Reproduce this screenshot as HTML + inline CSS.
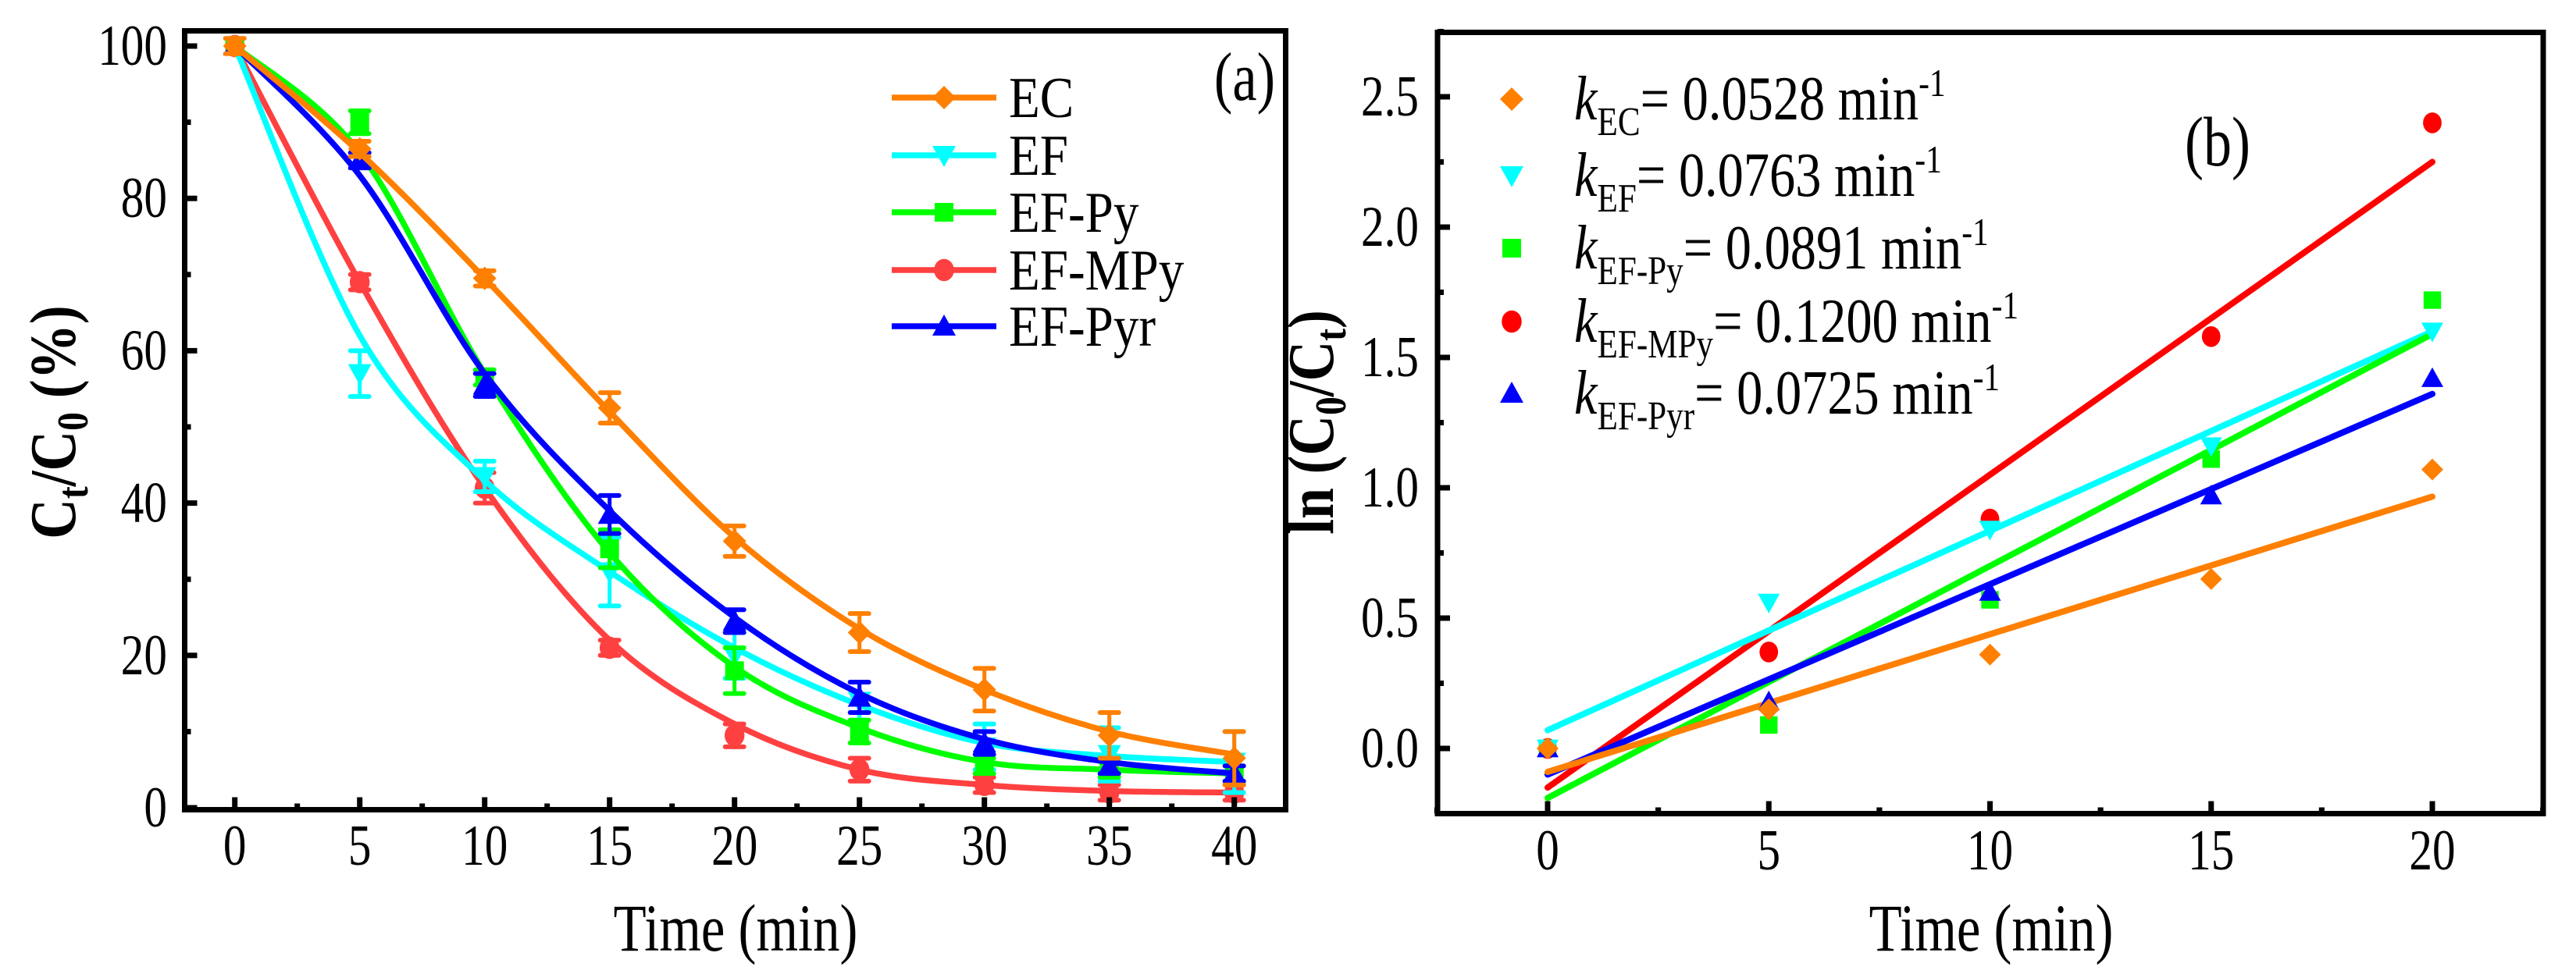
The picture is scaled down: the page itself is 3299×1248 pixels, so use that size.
<!DOCTYPE html>
<html><head><meta charset="utf-8"><style>
body{margin:0;background:#fff}
svg{display:block;font-family:"Liberation Serif",serif}
</style></head><body>
<svg id="fig" width="3299" height="1248" viewBox="0 0 3299 1248"></svg>
<script>
// ---- Panel (a) data ----
const timesA = [0,5,10,15,20,25,30,35,40];
const seriesNames = ["EC","EF","EF-Py","EF-MPy","EF-Pyr"];
const ecVals = [100,86.5,69.5,52.5,35,23,15.5,9.5,6.5];
const ecErr = [1,1,1,2,2,2.5,2.8,3,3.5];
const ecFit = [100,86,69.5,52,35.5,23.5,15.5,10,7];
const efVals = [100,57,43.5,31,20,14,8,7,6];
const efErr = [0,3,2,4.5,3,2.5,3,3.5,4];
const efFit = [100,62,43,31,21,13.5,8.5,6.8,6];
const pyVals = [100,90,56.5,34,18,10,5.5,5,4.5];
const pyErr = [0,1.5,1,2.5,3,1.5,1,1,1];
const pyFit = [100,86,57,33.5,18.5,10.5,6,5,4.5];
const mpyVals = [100,69,42,21,9.5,5,3,2,2];
const mpyErr = [0,1,2,1,1.5,1.5,1,1,1];
const mpyFit = [100,69,42,22,11,5,3,2.2,2];
const pyrVals = [100,85,55.5,38.5,24.5,14.5,8.5,5.5,4.5];
const pyrErr = [0,1,1.5,2.5,1.5,2,1.5,1,1];
const pyrFit = [100,83,57,39,25,15,9,6,4.5];
const yTicksA = [0,20,40,60,80,100];
const xTicksA = [0,5,10,15,20,25,30,35,40];
// ---- Panel (b) data ----
const timesB = [0,5,10,15,20];
const ecLn = [0,0.15,0.36,0.65,1.07];
const efLn = [0,0.56,0.84,1.16,1.60];
const pyLn = [0,0.09,0.57,1.11,1.72];
const mpyLn = [0,0.37,0.88,1.58,2.40];
const pyrLn = [0,0.18,0.60,0.97,1.42];
const intercepts = [-0.09,0.07,-0.19,-0.15,-0.10];
const slopes = [0.0528,0.0765,0.089,0.12,0.073];
const kLabels = ["0.0528","0.0763","0.0891","0.1200","0.0725"];
const kSubs = ["EC","EF","EF-Py","EF-MPy","EF-Pyr"];
const yTicksB = [0.0,0.5,1.0,1.5,2.0,2.5];
const xTicksB = [0,5,10,15,20];

const NS="http://www.w3.org/2000/svg";
const svg=document.getElementById('fig');
function mk(tag,attrs,parent){const e=document.createElementNS(NS,tag);for(const k in attrs)e.setAttribute(k,attrs[k]);(parent||svg).appendChild(e);return e;}
function txt(x,y,size,anchor,sx,parent){
  return mk('text',{transform:`translate(${x},${y}) scale(${sx},1)`,x:0,y:0,'font-size':size,'text-anchor':anchor},parent);
}

const colA=["#FF7F00","#00FFFF","#00FF00","#FF4040","#0000FF"];
const colB=["#FF7F00","#00FFFF","#00FF00","#FF0000","#0000FF"];
const shapes=["diamond","down","square","circle","up"];

function marker(shape,cx,cy,s,color,g){
  let e;
  if(shape==="diamond") e=mk('polygon',{points:`${cx},${cy-s} ${cx+s},${cy} ${cx},${cy+s} ${cx-s},${cy}`,fill:color},g);
  else if(shape==="down") e=mk('polygon',{points:`${cx-s},${cy-s*0.8} ${cx+s},${cy-s*0.8} ${cx},${cy+s}`,fill:color},g);
  else if(shape==="up") e=mk('polygon',{points:`${cx-s},${cy+s*0.8} ${cx+s},${cy+s*0.8} ${cx},${cy-s}`,fill:color},g);
  else if(shape==="square") e=mk('rect',{x:cx-s*0.8,y:cy-s*0.8,width:s*1.6,height:s*1.6,fill:color},g);
  else e=mk('ellipse',{cx:cx,cy:cy,rx:s*0.85,ry:s*0.95,fill:color},g);
  return e;
}
function spline(pts){
  let d=`M${pts[0][0]},${pts[0][1]}`;
  for(let i=0;i<pts.length-1;i++){
    const p0=pts[Math.max(0,i-1)],p1=pts[i],p2=pts[i+1],p3=pts[Math.min(pts.length-1,i+2)];
    const c1=[p1[0]+(p2[0]-p0[0])/6,p1[1]+(p2[1]-p0[1])/6];
    const c2=[p2[0]-(p3[0]-p1[0])/6,p2[1]-(p3[1]-p1[1])/6];
    d+=` C${c1[0]},${c1[1]} ${c2[0]},${c2[1]} ${p2[0]},${p2[1]}`;
  }
  return d;
}

// ===== Panel A =====
const A={x0:236.5,x1:1646.5,y0:39.5,y1:1037.5};
const xA=v=>300.7+v*32.0;
const yA=v=>1035-v*9.76;
const gA=mk('g',{});


const valsA=[ecVals,efVals,pyVals,mpyVals,pyrVals];
const errsA=[ecErr,efErr,pyErr,mpyErr,pyrErr];
const fitsA=[ecFit,efFit,pyFit,mpyFit,pyrFit];
const drawOrderA=[3,1,2,4,0];
drawOrderA.forEach(si=>{
  const g=mk('g',{},gA);
  
  
  const pts=timesA.map((t,i)=>[xA(t),yA(fitsA[si][i])]);
  const p=mk('path',{d:spline(pts),fill:'none',stroke:colA[si],'stroke-width':7.5,'stroke-linecap':'round'},g);
  
  
  timesA.forEach((t,i)=>{
    const cx=xA(t),v=valsA[si][i],e=errsA[si][i];
    if(e>0){
      mk('line',{x1:cx,x2:cx,y1:yA(v-e),y2:yA(v+e),stroke:colA[si],'stroke-width':5},g);
      mk('line',{x1:cx-12,x2:cx+12,y1:yA(v+e),y2:yA(v+e),stroke:colA[si],'stroke-width':6,'stroke-linecap':'round'},g);
      mk('line',{x1:cx-12,x2:cx+12,y1:yA(v-e),y2:yA(v-e),stroke:colA[si],'stroke-width':6,'stroke-linecap':'round'},g);
    }
    const m=marker(shapes[si],cx,yA(v),15,colA[si],g);
    
    
  });
});
const frA=mk('rect',{x:A.x0,y:A.y0,width:A.x1-A.x0,height:A.y1-A.y0,fill:'none',stroke:'#000','stroke-width':7},gA);


yTicksA.forEach(v=>{
  mk('line',{x1:A.x0,x2:A.x0+16,y1:yA(v),y2:yA(v),stroke:'#000','stroke-width':7},gA);
  const t=txt(214,yA(v)+24,74,'end',0.8,gA);t.textContent=v;
  
  
  if(v<100) mk('line',{x1:A.x0,x2:A.x0+8,y1:yA(v+10),y2:yA(v+10),stroke:'#000','stroke-width':7},gA);
});
xTicksA.forEach(v=>{
  mk('line',{x1:xA(v),x2:xA(v),y1:A.y1,y2:A.y1-16,stroke:'#000','stroke-width':7},gA);
  if(v<40) mk('line',{x1:xA(v+2.5),x2:xA(v+2.5),y1:A.y1,y2:A.y1-8,stroke:'#000','stroke-width':7},gA);
  const t=txt(xA(v),1108,74,'middle',0.8,gA);t.textContent=v;
  
  
});
let t=txt(942,1218,86,'middle',0.8,gA);t.textContent='Time (min)';


t=mk('text',{transform:'translate(96,541) rotate(-90) scale(0.85,1)','font-size':84,'font-weight':'bold','text-anchor':'middle'},gA);
t.innerHTML='C<tspan font-size="56" dy="16">t</tspan><tspan dy="-16">/C</tspan><tspan font-size="56" dy="16">0</tspan><tspan dy="-16"> (%)</tspan>';


t=txt(1594,128,88,'middle',0.8,gA);t.textContent='(a)';


const legYA=[125,199,272,346,418];
seriesNames.forEach((n,i)=>{
  const g=mk('g',{},gA);
  
  
  mk('line',{x1:1142,x2:1276,y1:legYA[i],y2:legYA[i],stroke:colA[i],'stroke-width':7.5},g);
  marker(shapes[i],1209,legYA[i],15,colA[i],g);
  const tx=txt(1292,legYA[i]+25,74,'start',0.88,g);tx.textContent=n;
});

// ===== Panel B =====
const B={x0:1841,x1:3257,y0:41.5,y1:1042.5};
const xB=v=>1982+v*56.65;
const yB=v=>959-v*334;
const gB=mk('g',{});


const valsB=[ecLn,efLn,pyLn,mpyLn,pyrLn];
[3,1,2,4,0].forEach(si=>{
  const g=mk('g',{},gB);
  
  
  const l=mk('line',{x1:xB(0),x2:xB(20),y1:yB(intercepts[si]),y2:yB(intercepts[si]+slopes[si]*20),stroke:colB[si],'stroke-width':8,'stroke-linecap':'round'},g);
  
  
});
[3,2,4,1,0].forEach(si=>{
  const g=mk('g',{},gB);
  
  
  timesB.forEach((tt,i)=>{
    const m=marker(shapes[si],xB(tt),yB(valsB[si][i]),14,colB[si],g);
    
    
  });
});
const frB=mk('rect',{x:B.x0,y:B.y0,width:B.x1-B.x0,height:B.y1-B.y0,fill:'none',stroke:'#000','stroke-width':7},gB);


yTicksB.forEach(v=>{
  mk('line',{x1:B.x0,x2:B.x0+16,y1:yB(v),y2:yB(v),stroke:'#000','stroke-width':7},gB);
  mk('line',{x1:B.x0,x2:B.x0+8,y1:yB(v+0.25),y2:yB(v+0.25),stroke:'#000','stroke-width':7},gB);
  const tx=txt(1817,yB(v)+24,74,'end',0.8,gB);tx.textContent=v.toFixed(1);
  
  
});
xTicksB.forEach(v=>{
  mk('line',{x1:xB(v),x2:xB(v),y1:B.y1,y2:B.y1-16,stroke:'#000','stroke-width':7},gB);
  mk('line',{x1:xB(v+2.5),x2:xB(v+2.5),y1:B.y1,y2:B.y1-8,stroke:'#000','stroke-width':7},gB);
  mk('line',{x1:xB(v-2.5),x2:xB(v-2.5),y1:B.y1,y2:B.y1-8,stroke:'#000','stroke-width':7},gB);
  const tx=txt(xB(v),1114,74,'middle',0.8,gB);tx.textContent=v;
  
  
});
t=txt(2550,1218,86,'middle',0.8,gB);t.textContent='Time (min)';


t=mk('text',{transform:'translate(1707,541) rotate(-90) scale(0.85,1)','font-size':84,'font-weight':'bold','text-anchor':'middle'},gB);
t.innerHTML='ln (C<tspan font-size="56" dy="16">0</tspan><tspan dy="-16">/C</tspan><tspan font-size="56" dy="16">t</tspan><tspan dy="-16">)</tspan>';


t=txt(2840,212,90,'middle',0.8,gB);t.textContent='(b)';


const legYB=[127,225,318,412,504];
kSubs.forEach((n,i)=>{
  const g=mk('g',{},gB);
  
  
  marker(shapes[i],1936,legYB[i],15,colB[i],g);
  const tx=txt(2016,legYB[i]+26,80,'start',0.83,g);
  tx.innerHTML='<tspan font-style="italic">k</tspan><tspan font-size="52" dy="20">'+n+'</tspan><tspan dy="-20">= '+kLabels[i]+' min</tspan><tspan font-size="50" dy="-30">-1</tspan>';
});
</script>
</body></html>
